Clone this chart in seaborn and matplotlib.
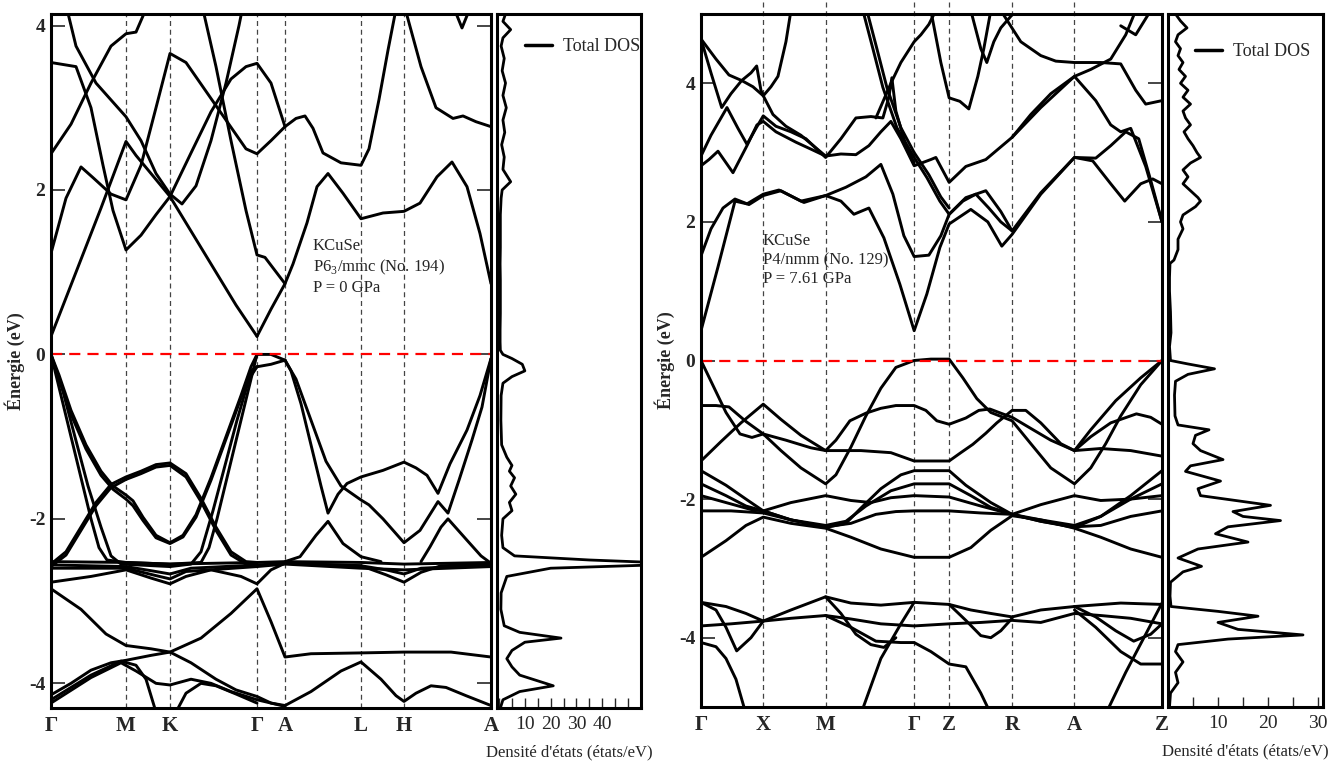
import matplotlib
matplotlib.use("Agg")
import matplotlib.pyplot as plt
from matplotlib.ticker import MultipleLocator
import pandas as pd
import seaborn as sns

sns.set_theme(style="ticks")
plt.rcParams["font.family"] = ["Liberation Serif", "DejaVu Serif"]
plt.rcParams["mathtext.fontset"] = "custom"
plt.rcParams["mathtext.rm"] = "Liberation Serif"

# ---------------- k-paths ----------------
left_ticks = [0, 75, 119, 206, 234, 310, 353, 440]
left_labels = ["Γ", "M", "K", "Γ", "A", "L", "H", "A"]
right_ticks = [0, 62.3, 124.7, 213.3, 248.3, 311.3, 373.7, 461.3]
right_labels = ["Γ", "X", "M", "Γ", "Z", "R", "A", "Z"]

# ---------------- left panel bands (k, E) : P6_3/mmc ----------------
LV1 = [(0,0),(10,-0.5),(20,-1.0),(30,-1.5),(40,-2.0),(48,-2.35),(56,-2.5),(75,-2.53),(119,-2.55),(150,-2.53),(158,-2.35),(166,-2.0),(176,-1.5),(186,-1.0),(196,-0.5),(206,0)]
LV2 = [(0,0),(12,-0.45),(25,-1.05),(37,-1.6),(50,-2.1),(60,-2.45),(70,-2.55),(119,-2.58),(140,-2.55),(150,-2.4),(162,-1.9),(174,-1.35),(186,-0.8),(198,-0.3),(206,-0.15)]
LV3 = [(0,0),(8,-0.25),(20,-0.68),(35,-1.1),(50,-1.42),(62,-1.6),(75,-1.71),(82,-1.78),(92,-1.98),(105,-2.2),(119,-2.29),(132,-2.2),(145,-1.95),(160,-1.5),(175,-1.0),(190,-0.5),(200,-0.15),(206,0)]
LV4 = [(0,-0.02),(8,-0.29),(20,-0.73),(35,-1.15),(50,-1.47),(62,-1.64),(75,-1.76),(82,-1.84),(92,-2.02),(105,-2.23),(119,-2.3),(132,-2.22),(145,-1.98),(160,-1.53),(175,-1.03),(190,-0.53),(200,-0.2),(206,-0.15)]
LV5 = [(0,-2.55),(15,-2.4),(30,-2.1),(45,-1.8),(60,-1.58),(75,-1.49),(90,-1.42),(105,-1.34),(119,-1.32),(135,-1.45),(150,-1.75),(165,-2.1),(180,-2.4),(195,-2.52),(206,-2.53)]
LV6 = [(0,-2.58),(15,-2.44),(30,-2.14),(45,-1.84),(60,-1.62),(75,-1.52),(90,-1.45),(105,-1.37),(119,-1.35),(135,-1.49),(150,-1.79),(165,-2.14),(180,-2.44),(195,-2.55),(206,-2.56)]
GA1 = [(206,0),(220,0.0),(234,-0.07)]
GA2 = [(206,-0.15),(220,-0.12),(234,-0.07)]
LR1 = [(234,-0.07),(240,-0.2),(250,-0.6),(260,-1.1),(270,-1.6),(277,-1.93),(287,-1.7),(296,-1.57),(310,-1.49),(332,-1.41),(353,-1.31),(365,-1.38),(376,-1.47),(387,-1.69),(399,-1.33),(416,-0.92),(429,-0.5),(440,-0.05)]
LR2 = [(234,-0.07),(245,-0.3),(260,-0.8),(275,-1.3),(290,-1.6),(310,-1.77),(318,-1.83),(332,-2.0),(353,-2.29),(369,-2.14),(387,-1.79),(397,-1.93),(408,-1.53),(421,-1.04),(431,-0.64),(440,-0.05)]
LR3 = [(234,-2.52),(249,-2.46),(265,-2.2),(277,-2.03),(292,-2.3),(310,-2.46),(330,-2.52)]
LR4 = [(370,-2.52),(379,-2.34),(390,-2.1),(397,-2.0),(416,-2.26),(430,-2.45),(440,-2.54)]
LF1 = [(0,-2.52),(75,-2.53),(119,-2.55),(206,-2.53),(234,-2.52),(310,-2.53),(353,-2.55),(440,-2.53)]
LF2 = [(0,-2.56),(75,-2.58),(100,-2.63),(119,-2.67),(140,-2.6),(206,-2.56),(234,-2.54),(310,-2.57),(335,-2.62),(353,-2.67),(370,-2.6),(440,-2.56)]
LF3 = [(0,-2.77),(40,-2.7),(75,-2.62),(100,-2.72),(119,-2.79),(135,-2.7),(160,-2.62),(190,-2.7),(206,-2.79),(220,-2.62),(234,-2.54),(310,-2.57),(335,-2.68),(353,-2.77),(370,-2.65),(390,-2.57),(440,-2.55)]
LF4 = [(0,-2.6),(75,-2.6),(105,-2.69),(119,-2.73),(135,-2.64),(206,-2.58),(234,-2.55),(310,-2.6),(353,-2.62),(440,-2.58)]
LO1 = [(0,-2.85),(30,-3.1),(55,-3.4),(75,-3.54),(100,-3.58),(119,-3.62),(150,-3.45),(180,-3.15),(206,-2.85),(220,-3.25),(234,-3.68),(260,-3.64),(310,-3.63),(353,-3.62),(400,-3.62),(440,-3.68)]
LO2 = [(0,-4.14),(20,-4.0),(40,-3.84),(60,-3.75),(75,-3.72),(100,-3.66),(119,-3.62),(140,-3.75),(165,-3.95),(185,-4.08),(206,-4.16),(220,-4.24),(234,-4.27)]
LO3 = [(234,-4.27),(260,-4.1),(290,-3.85),(310,-3.74),(330,-3.95),(345,-4.15),(353,-4.22),(365,-4.12),(380,-4.03),(395,-4.05),(415,-4.15),(440,-4.27)]
LO4 = [(0,-4.2),(40,-3.9),(70,-3.73),(85,-3.78),(95,-3.95),(105,-4.35)]
LO5 = [(0,-4.24),(40,-3.93),(70,-3.75),(85,-3.85),(105,-4.0),(119,-4.02),(140,-3.95),(160,-4.0),(180,-4.1),(206,-4.2),(234,-4.28)]
LO6 = [(125,-4.35),(135,-4.12),(150,-4.0),(165,-4.03),(185,-4.13),(206,-4.24)]
LC1 = [(0,0.22),(25,1.0),(50,1.78),(75,2.59),(85,2.42),(100,2.2),(119,1.92),(140,1.5),(165,1.0),(185,0.6),(206,0.22)]
LCA = [(206,0.22),(220,0.55),(234,0.86),(242,1.1),(256,1.6),(266,2.04),(277,2.2),(292,1.96),(310,1.65),(332,1.72),(353,1.74),(369,1.84),(386,2.16),(401,2.34),(416,2.04),(429,1.47),(440,0.86)]
LCK = [(150,4.3),(165,3.5),(180,2.6),(195,1.75),(206,1.21),(214,1.18),(234,0.86)]
LC2 = [(0,1.23),(15,1.9),(30,2.28),(42,2.15),(60,1.95),(75,1.88),(90,2.3),(105,3.0),(119,3.66),(135,3.55),(155,3.2),(175,2.85),(195,2.5),(206,2.44),(220,2.6),(234,2.77),(245,2.87),(254,2.9),(262,2.75),(272,2.45),(290,2.33),(310,2.3),(318,2.5),(328,3.1),(337,3.7),(345,4.2)]
LC3 = [(0,3.55),(25,3.5),(40,3.0),(52,2.3),(62,1.75),(75,1.27),(90,1.45),(105,1.7),(119,1.92),(140,2.45),(160,2.95),(180,3.35),(195,3.5),(206,3.54),(220,3.3),(234,2.77)]
LC4 = [(0,2.44),(20,2.8),(40,3.3),(60,3.75),(75,3.9),(85,3.92),(95,4.2)]
LC5 = [(17,4.15),(25,3.75),(45,3.3),(75,2.89),(90,2.6),(105,2.2),(119,1.95),(131,1.83),(145,2.05),(160,2.6),(175,3.3),(188,4.0),(193,4.3)]
LC6 = [(352,4.3),(370,3.5),(385,3.0),(402,2.87),(412,2.9),(425,2.83),(440,2.77)]
LC7 = [(400,4.3),(411,3.97),(422,4.3)]
left_bands = [LV1, LV2, LV3, LV4, LV5, LV6, GA1, GA2, LR1, LR2, LR3, LR4, LF1, LF2, LF3, LF4,
              LO1, LO2, LO3, LO4, LO5, LO6, LC1, LCA, LCK, LC2, LC3, LC4, LC5, LC6, LC7]

# ---------------- right panel bands (k, E) : P4/nmm ----------------
RV1 = [(0,0),(10,-0.3),(25,-0.75),(39,-1.06),(51,-1.11),(62.3,-1.06),(80,-1.3),(100,-1.55),(124.7,-1.78),(135,-1.65),(150,-1.25),(165,-0.8),(180,-0.4),(195,-0.1),(213.3,0),(230,0.02),(248.3,0.02),(262,-0.25),(276,-0.55),(290,-0.75),(311.3,-0.87),(330,-1.2),(350,-1.55),(373.7,-1.78),(390,-1.55),(405,-1.2),(420,-0.8),(440,-0.35),(461.3,0)]
RV2 = [(0,-0.65),(15,-0.65),(28,-0.67),(45,-0.88),(62.3,-1.06),(85,-1.15),(110,-1.26),(124.7,-1.3),(135,-1.15),(149,-0.87),(165,-0.76),(180,-0.69),(195,-0.65),(213.3,-0.65),(225,-0.72),(236,-0.87),(248.3,-0.92),(265,-0.83),(278,-0.72),(289,-0.7),(300,-0.76),(311.3,-0.82),(330,-0.98),(350,-1.15),(373.7,-1.3),(400,-1.27),(430,-1.3),(461.3,-1.38)]
RV3 = [(0,-1.45),(20,-1.17),(40,-0.9),(62.3,-0.63),(80,-0.85),(100,-1.08),(124.7,-1.3),(160,-1.3),(190,-1.33),(213.3,-1.45),(248.3,-1.45),(260,-1.33),(272,-1.21),(285,-1.05),(296,-0.9),(311.3,-0.72),(325,-0.72),(340,-0.9),(360,-1.2),(373.7,-1.3),(390,-1.0),(415,-0.58),(440,-0.25),(461.3,0)]
RV6 = [(373.7,-1.3),(390,-1.1),(410,-0.9),(435.7,-0.77),(450,-0.82),(461.3,-0.92)]
RV7 = [(0,-1.59),(25,-1.8),(45,-2.0),(62.3,-2.17),(90,-2.3),(124.7,-2.41),(145,-2.35),(160,-2.13),(180,-1.85),(200,-1.65),(213.3,-1.59),(248.3,-1.59),(265,-1.8),(290,-2.05),(311.3,-2.22),(340,-2.32),(373.7,-2.41),(400,-2.25),(430,-1.95),(461.3,-1.59)]
RV8 = [(0,-1.78),(25,-1.95),(45,-2.1),(62.3,-2.17),(90,-2.3),(124.7,-2.38),(145,-2.32),(165,-2.1),(190,-1.88),(213.3,-1.78),(248.3,-1.78),(270,-1.95),(290,-2.12),(311.3,-2.22),(340,-2.3),(373.7,-2.38),(400,-2.25),(430,-2.0),(461.3,-1.78)]
RV9 = [(0,-1.95),(25,-2.05),(50,-2.15),(62.3,-2.17),(90,-2.05),(124.7,-1.95),(150,-2.02),(170,-2.05),(190,-1.98),(213.3,-1.95),(248.3,-1.97),(280,-2.1),(311.3,-2.22),(340,-2.08),(373.7,-1.95),(400,-2.02),(430,-2.0),(461.3,-1.95)]
RV10 = [(0,-2.17),(30,-2.17),(62.3,-2.2),(90,-2.3),(124.7,-2.4),(150,-2.35),(175,-2.22),(195,-2.18),(213.3,-2.17),(248.3,-2.17),(280,-2.2),(311.3,-2.22),(340,-2.32),(373.7,-2.4),(400,-2.38),(430,-2.25),(461.3,-2.17)]
RV11 = [(0,-2.84),(25,-2.6),(45,-2.38),(62.3,-2.26),(90,-2.35),(124.7,-2.42),(150,-2.55),(180,-2.72),(213.3,-2.84),(248.3,-2.84),(270,-2.7),(290,-2.45),(311.3,-2.24),(340,-2.3),(373.7,-2.42),(400,-2.55),(430,-2.72),(461.3,-2.84)]
RV12 = [(0,-3.49),(25,-3.55),(45,-3.65),(62.3,-3.76),(90,-3.6),(124.7,-3.41),(150,-3.5),(180,-3.53),(213.3,-3.49),(248.3,-3.52),(270,-3.6),(290,-3.65),(311.3,-3.7),(340,-3.6),(373.7,-3.55),(420,-3.5),(461.3,-3.52)]
RV13 = [(0,-3.83),(30,-3.8),(62.3,-3.76),(90,-3.72),(124.7,-3.68),(150,-3.73),(180,-3.8),(213.3,-3.83),(248.3,-3.8),(280,-3.78),(311.3,-3.75),(340,-3.78),(373.7,-3.65),(400,-3.68),(430,-3.72),(461.3,-3.8)]
RV14 = [(0,-3.49),(15,-3.6),(25,-3.85),(35.7,-4.19),(50,-4.0),(62.3,-3.76)]
RV15 = [(0,-4.07),(15,-4.13),(25,-4.3),(35,-4.6),(45,-5.1)]
RV16 = [(124.7,-3.41),(140,-3.65),(155,-3.95),(170,-4.1),(183,-4.14),(195,-4.0)]
RV17 = [(124.7,-3.68),(150,-3.85),(175,-4.05),(200,-4.07),(213.3,-4.07),(230,-4.2),(248.3,-4.38),(265,-4.42),(280,-4.8),(290,-5.1)]
RV18 = [(160,-5.1),(180,-4.3),(200,-3.8),(213.3,-3.49)]
RV19 = [(248.3,-3.52),(265,-3.75),(280,-3.97),(290,-4.0),(300,-3.9),(311.3,-3.72)]
RV20 = [(373.7,-3.55),(395,-3.7),(415,-3.9),(433,-4.05),(450,-3.95),(461.3,-3.8)]
RV21 = [(373.7,-3.6),(395,-3.85),(420,-4.2),(440,-4.38),(461.3,-4.38)]
RV22 = [(405,-5.1),(425,-4.5),(445,-3.95),(461.3,-3.5)]
RC1 = [(0,0.43),(17,1.35),(34,2.3),(46,2.26),(62.3,2.4),(78,2.46),(103,2.28),(124.7,2.38),(140,2.3),(153,2.11),(168,2.2),(183,1.77),(199,1.1),(213.3,0.43),(226,0.96),(239,1.63),(248.3,1.97),(270,2.18),(287,2.0),(301,1.65),(311.3,1.82),(340,2.4),(373.7,2.93),(392,2.88),(410,2.55),(424,2.3),(440,2.55),(452,2.62),(461.3,2.55)]
RC2 = [(0,1.51),(10,1.9),(22,2.2),(34,2.33),(48,2.25),(62.3,2.38),(80,2.45),(100,2.3),(124.7,2.38),(145,2.5),(165,2.65),(180,2.83),(192,2.4),(203,1.8),(213.3,1.5),(228,1.52),(240,1.8),(248.3,2.11),(265,2.35),(285,2.45),(300,2.15),(311.3,1.87),(340,2.42),(373.7,2.93),(395,2.92),(410,3.1),(425,3.3),(438,3.2),(450,2.6),(461.3,2.0)]
RC3 = [(0,2.95),(10,3.25),(26,3.65),(37,3.35),(46,3.12),(55,3.35),(62.3,3.53),(75,3.38),(90,3.3),(105,3.2),(124.7,2.93),(140,3.2),(155,3.5),(170,3.52),(182,3.5),(188,3.8),(191,4.08),(195,3.6),(205,3.1),(213.3,2.85)]
RC4 = [(0,2.81),(8,2.9),(17,3.02),(32,2.71),(46,3.1),(56,3.4),(62.3,3.45),(75,3.3),(95,3.15),(110,3.05),(124.7,2.95),(140,2.98),(155,2.97),(168,3.1),(180,3.3),(190,3.45),(200,3.2),(213.3,2.81),(230,2.9),(235,2.93),(248.3,2.57),(265,2.8),(285,2.9),(311.3,3.22),(340,3.65),(373.7,4.1),(395,3.75),(410,3.4),(420,3.3),(430,3.35),(445,2.8),(461.3,2.0)]
RC5 = [(162,5.05),(172,4.5),(182,3.94),(196,3.36),(213.3,2.93),(226,2.64),(239,2.3),(248.3,2.11),(262,2.3),(275,2.4),(288,2.2),(300,2.0),(311.3,1.87)]
RC6 = [(166,5.05),(176,4.5),(186,3.94),(200,3.36),(213.3,3.0),(228,2.68),(240,2.36),(248.3,2.2)]
RC7 = [(0,4.64),(10,4.15),(20.7,3.65),(30,3.85),(40.7,4.04),(50,4.15),(55.7,4.25),(60,3.9),(62.3,3.82),(70,3.95),(77,4.1),(85,4.6),(90,5.05)]
RC8 = [(0,4.64),(15,4.35),(28,4.12),(40.7,4.04),(52,3.95),(62.3,3.82),(72,3.55),(85,3.38),(100,3.25),(124.7,2.95)]
RC9 = [(175,3.5),(190,4.0),(200,4.3),(213.3,4.6),(220,4.7),(228,4.85),(235,5.05)]
RC10 = [(230,5.05),(240,4.3),(248.3,3.79),(259,3.74),(268,3.63),(277,4.1),(283,4.5),(290,5.05)]
RC11 = [(270,5.05),(280,4.5),(286,4.3),(293,4.6),(300,4.8),(315,5.05)]
RC12 = [(300,5.05),(320,4.6),(340,4.4),(355,4.32),(373.7,4.3),(400,4.3),(420,4.28),(435,3.9),(445,3.7),(461.3,3.75)]
RC13 = [(311.3,3.22),(330,3.55),(350,3.85),(373.7,4.1),(390,4.2),(410,4.35),(425,4.7),(435,5.05)]
RC14 = [(420,4.83),(435,4.7),(450,5.05)]
right_bands = [RV1, RV2, RV3, RV6, RV7, RV8, RV9, RV10, RV11, RV12, RV13, RV14, RV15, RV16, RV17,
               RV18, RV19, RV20, RV21, RV22, RC1, RC2, RC3, RC4, RC5, RC6, RC7, RC8, RC9, RC10,
               RC11, RC12, RC13, RC14]

# ---------------- DOS ----------------
dosL_E = [4.14,4.05,3.95,3.85,3.75,3.6,3.45,3.3,3.15,3.0,2.85,2.7,2.55,2.4,2.25,2.1,2.0,1.9,1.7,1.5,1.3,1.1,0.9,0.7,0.5,0.3,0.15,0.05,0.0,-0.05,-0.12,-0.2,-0.27,-0.35,-0.5,-0.8,-1.1,-1.25,-1.35,-1.42,-1.5,-1.6,-1.7,-1.8,-1.9,-2.0,-2.2,-2.35,-2.45,-2.5,-2.53,-2.56,-2.6,-2.7,-2.9,-3.1,-3.3,-3.38,-3.45,-3.5,-3.6,-3.7,-3.8,-3.9,-3.97,-4.03,-4.1,-4.2,-4.3]
dosL_V = [2.5,1.5,4.5,1.5,0.8,2.0,1.2,2.5,1.5,2.8,1.5,2.2,1.0,2.0,1.5,4.5,1.2,0.8,0.5,0.5,0.5,0.4,0.5,0.5,0.5,0.4,0.4,0.5,1.5,5,9,10,5,1.5,0.8,0.7,1.0,3,5,4,6,4.5,6.5,4,5,1.5,1.0,1.5,6,35,60,60,20,3,0.8,0.7,2,8,24,10,5,3,5,8,15,21,8,1.5,0.5]
dosR_E = [5.0,4.9,4.8,4.7,4.6,4.5,4.4,4.3,4.2,4.1,4.0,3.9,3.8,3.7,3.6,3.5,3.4,3.3,3.2,3.1,3.0,2.93,2.85,2.75,2.65,2.55,2.45,2.35,2.3,2.22,2.1,2.0,1.9,1.75,1.6,1.45,1.4,1.2,1.0,0.7,0.4,0.2,0.0,-0.05,-0.12,-0.2,-0.3,-0.5,-0.8,-0.93,-1.0,-1.08,-1.2,-1.3,-1.43,-1.52,-1.6,-1.74,-1.85,-1.95,-2.09,-2.18,-2.25,-2.31,-2.4,-2.5,-2.62,-2.72,-2.85,-2.97,-3.05,-3.2,-3.4,-3.55,-3.62,-3.69,-3.78,-3.88,-3.96,-4.02,-4.1,-4.2,-4.35,-4.5,-4.65,-4.8,-5.0]
dosR_V = [1.5,2.5,3.8,2.0,1.5,2.5,2.0,3.0,2.2,3.5,2.5,4.0,3.0,4.5,3.0,3.5,4.5,3.2,4.0,5.0,5.8,6.5,4.5,3.0,4.0,3.0,4.5,6.0,6.5,5.5,3.0,2.5,3.0,2.0,2.0,1.2,0.4,0.3,0.3,0.5,0.6,0.3,0.5,4,9.3,4,1.5,1.3,1.4,2.0,8.2,5.5,5.0,6.5,11,4.5,3.5,10.5,6,6.5,20.5,13,15,22.5,12,9.5,16,6,2.0,6.7,3,0.5,0.4,0.6,10,18,10,14,27,12,2.0,1.5,3.0,1.5,2.0,0.5,0.3]


def bands_frame(bands):
    rows = []
    for i, b in enumerate(bands):
        for k, e in b:
            rows.append((i, k, e))
    return pd.DataFrame(rows, columns=["band", "k", "E"])


W, H = 1333, 765
fig = plt.figure(figsize=(W / 100, H / 100), dpi=100)


def fax(x0, x1, y0, y1):
    return fig.add_axes([x0 / W, 1 - y1 / H, (x1 - x0) / W, (y1 - y0) / H])


axL = fax(51, 491, 14, 708)
axLD = fax(497, 641, 14, 708)
axR = fax(701, 1162, 14, 707)
axRD = fax(1168, 1323, 14, 707)

SPW = 2.2


def style_band(ax, bands, ticks, labels, xmax, ylim, label_x, dash_top):
    sns.lineplot(data=bands_frame(bands), x="k", y="E", units="band", estimator=None,
                 sort=False, color="black", lw=2.1, ax=ax, legend=False)
    for t in ticks[1:-1]:
        ax.axvline(t, ymin=0, ymax=dash_top, color="#444444", lw=0.9, dashes=(4, 3),
                   zorder=0, clip_on=False)
    ax.axhline(0, color="#ff0000", lw=1.6, dashes=(5, 3.2), zorder=3)
    ax.set_xlim(0, xmax)
    ax.set_ylim(*ylim)
    ax.set_xticks(ticks)
    ax.set_xticklabels(labels, fontsize=15, fontweight="bold")
    ax.set_yticks([-4, -2, 0, 2, 4])
    ax.set_yticklabels(["-4", "-2", "0", "2", "4"], fontsize=14, fontweight="bold")
    ax.tick_params(axis="y", direction="in", length=10, width=1.2, left=True, right=True, pad=4)
    ax.tick_params(axis="x", length=0, pad=6)
    ax.set_xlabel("")
    ax.set_ylabel("Énergie (eV)", fontsize=13, fontweight="bold")
    ax.yaxis.set_label_coords(label_x, 0.5)
    for s in ax.spines.values():
        s.set_linewidth(SPW)
        s.set_color("black")
        s.set_zorder(5)


def style_dos(ax, E, V, xlim, ylim, majors, leg_anchor):
    sns.lineplot(x=V, y=E, sort=False, estimator=None, color="black", lw=2.0, ax=ax,
                 label="Total DOS", orient="y")
    ax.set_xlim(*xlim)
    ax.set_ylim(*ylim)
    ax.set_yticks([])
    ax.set_xticks(majors)
    ax.set_xticklabels([str(m) for m in majors], fontsize=14)
    ax.xaxis.set_minor_locator(MultipleLocator(5))
    ax.tick_params(axis="x", which="both", direction="in", length=7, width=1.0, pad=6)
    ax.set_ylabel("")
    ax.set_xlabel("Densité d'états (états/eV)", fontsize=12, labelpad=8)
    leg = ax.legend(loc="upper right", bbox_to_anchor=leg_anchor, frameon=False, fontsize=13,
                    handlelength=1.5, handletextpad=0.6, borderaxespad=0, borderpad=0.2)
    for ln in leg.get_lines():
        ln.set_linewidth(2.5)
    for s in ax.spines.values():
        s.set_linewidth(SPW)
        s.set_color("black")


style_band(axL, left_bands, left_ticks, left_labels, 440, (-4.3, 4.14), -0.060, 1.0)
style_band(axR, right_bands, right_ticks, right_labels, 461.3, (-5, 5), -0.056, 1.02)
style_dos(axLD, dosL_E, dosL_V, (-0.8, 55), (-4.3, 4.14), [10, 20, 30, 40], (1.018, 0.970))
style_dos(axRD, dosR_E, dosR_V, (0, 31), (-5, 5), [10, 20, 30], (0.939, 0.963))

axL.text(0.595, 0.677, "KCuSe\nP6$_{\\mathregular{3}}$/mmc (No. 194)\nP = 0 GPa",
         transform=axL.transAxes, fontsize=12, va="top", ha="left", linespacing=1.25)
axR.text(0.134, 0.684, "KCuSe\nP4/nmm (No. 129)\nP = 7.61 GPa",
         transform=axR.transAxes, fontsize=12, va="top", ha="left", linespacing=1.25)

fig.savefig("out.png", dpi=100)
